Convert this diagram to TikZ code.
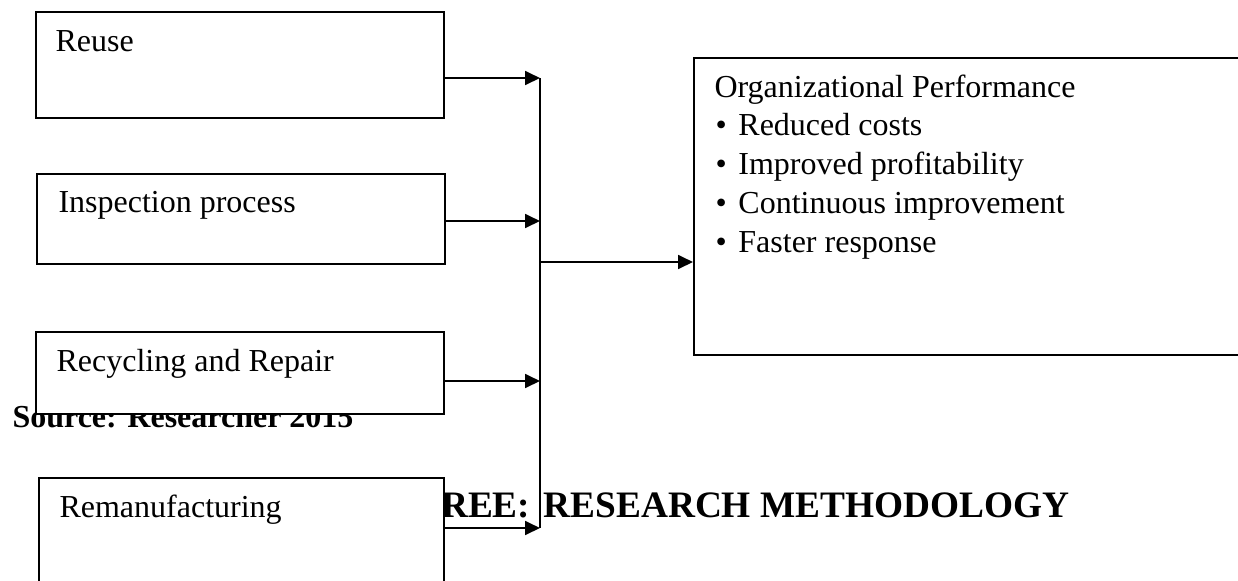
\documentclass[tikz,border=0pt]{standalone}
\usepackage{fontspec}
\setmainfont{Liberation Serif}
\usetikzlibrary{arrows.meta}

\tikzset{
  box/.style={draw, line width=0.8pt, fill=white, anchor=north west, inner sep=0pt},
  txt/.style={anchor=base west, inner sep=0pt, font=\fontsize{12}{14}\selectfont},
  bold/.style={inner sep=0pt, font=\fontsize{12}{14}\selectfont\bfseries},
  link/.style={line width=0.8pt, -{Triangle[length=5.6pt,width=5.2pt]}},
  trunk/.style={line width=0.8pt}
}
\newcommand{\bul}{\makebox[8.6pt][l]{\textbullet}}

\begin{document}
\begin{tikzpicture}[x=0.375pt, y=-0.375pt]
            \useasboundingbox (0,0) rectangle (1238,580);
            \clip (0,0) rectangle (1238,580);

            % texts lying under the boxes
            \node (source) at (12,427) [bold, anchor=base west] {Source: Researcher 2015};
            \node (chapter) at (1070,517) [bold, anchor=base east, font=\fontsize{14}{16}\selectfont\bfseries] {REE:\hspace{1.5pt} RESEARCH METHODOLOGY};

            % input boxes
            \node (reuse) at (35,11) [box, minimum width=408*0.375pt, minimum height=106*0.375pt] {};
            \node (inspect) at (36,173) [box, minimum width=408*0.375pt, minimum height=90*0.375pt] {};
            \node (recycle) at (35,331) [box, minimum width=408*0.375pt, minimum height=82*0.375pt] {};
            \node (reman) at (38,477) [box, minimum width=405*0.375pt, minimum height=140*0.375pt] {};

            \node (treuse) at (55,51) [txt] {Reuse};
            \node (tinspect) at (58,212) [txt] {Inspection process};
            \node (trecycle) at (56,371) [txt] {Recycling and Repair};
            \node (treman) at (59,517) [txt] {Remanufacturing};

            % outcome box
            \node (org) at (693,57) [box, minimum width=620*0.375pt, minimum height=297*0.375pt] {};
            \node (torg) at (714,97) [txt] {Organizational Performance};
            \node (b1) at (715,135) [txt] {\bul Reduced costs};
            \node (b2) at (715,174) [txt] {\bul Improved profitability};
            \node (b3) at (715,213) [txt] {\bul Continuous improvement};
            \node (b4) at (715,252) [txt] {\bul Faster response};

            % connectors
            \coordinate (j1) at (540,78);
            \coordinate (j2) at (540,221);
            \coordinate (j3) at (540,381);
            \coordinate (j4) at (540,528);
            \coordinate (jo) at (540,262);

            \draw[link] (reuse.east |- j1) -- (j1);
            \draw[link] (inspect.east |- j2) -- (j2);
            \draw[link] (recycle.east |- j3) -- (j3);
            \draw[link] (reman.east |- j4) -- (j4);
            \draw[trunk] (j1) -- (j4);
            \draw[link] (jo) -- (org.west |- jo);
\end{tikzpicture}
\end{document}
